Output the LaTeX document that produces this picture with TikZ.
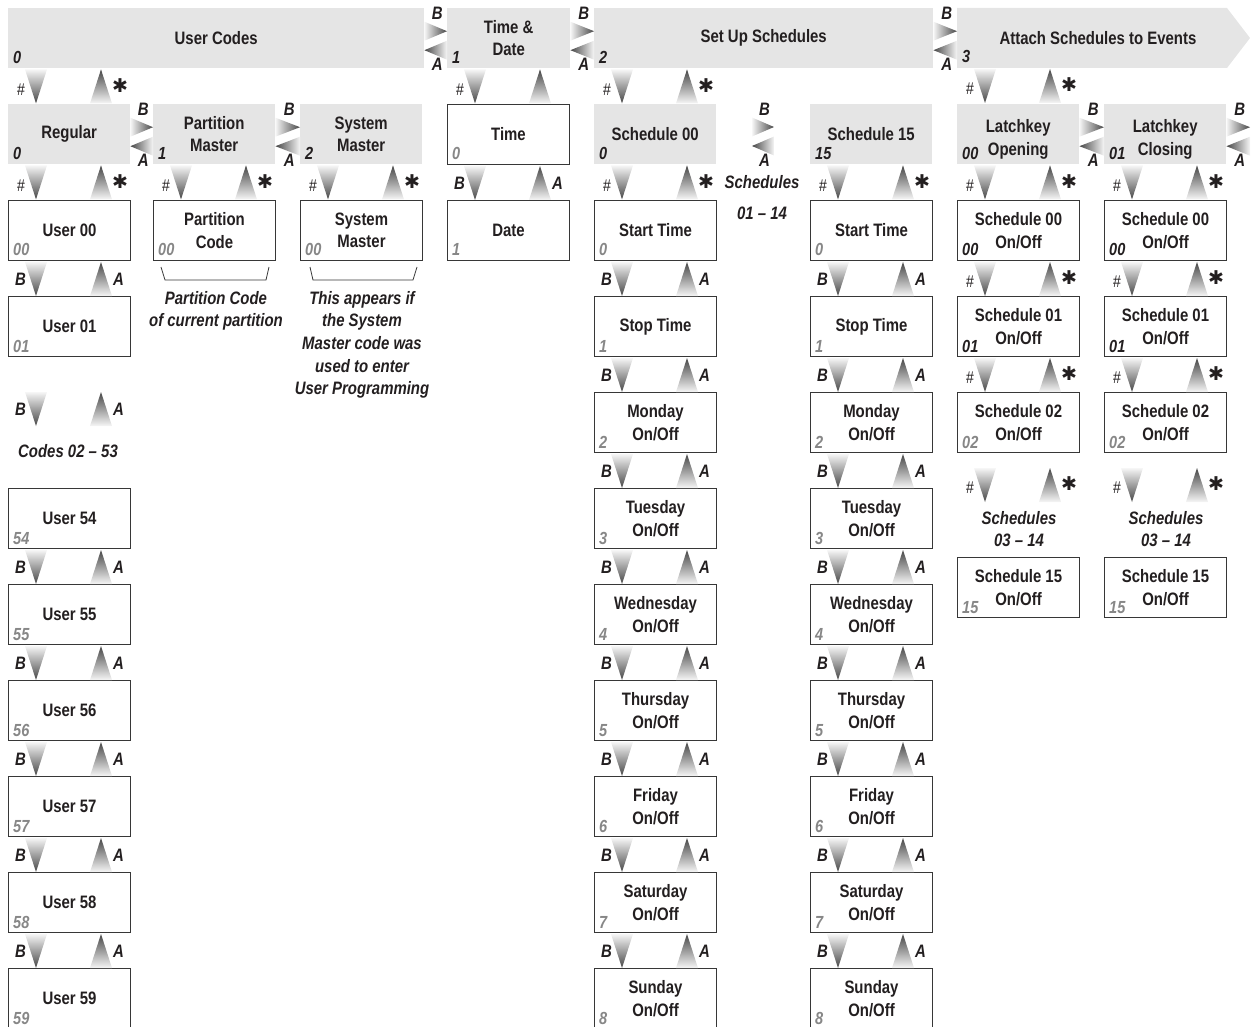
\documentclass[tikz,border=0pt]{standalone}
\usepackage{fontspec}
\setmainfont{Liberation Sans}[FakeStretch=0.83]
\newfontfamily\symfont{DejaVu Sans}
\usetikzlibrary{calc}
\definecolor{shd}{RGB}{229,229,229}
\definecolor{edge}{RGB}{55,55,55}
\definecolor{ink}{RGB}{35,31,32}
\definecolor{idxgray}{RGB}{135,135,135}
\definecolor{tdark}{RGB}{70,70,70}
\definecolor{tlight}{RGB}{246,246,246}
\newcommand\mainsz{\fontsize{18}{22.6}\selectfont\bfseries}
\newcommand\labsz{\fontsize{18}{18}\selectfont\bfseries\itshape}
\newcommand\idxsz{\fontsize{17.5}{17.5}\selectfont\bfseries\itshape}
\newcommand\hashsz{\fontsize{17}{17}\selectfont\itshape}
\newcommand\sts{{\symfont\fontsize{19}{19}\selectfont ✱}}
\newcommand\lift{\rule{0pt}{24pt}}
\tikzset{
 every node/.style={inner sep=0pt, text=ink},
 wbox/.style={draw=edge, line width=1pt, fill=white, minimum width=122pt, minimum height=60pt, anchor=north west, align=center, font=\mainsz},
 gbox/.style={fill=shd, minimum width=122pt, minimum height=60pt, anchor=north west, align=center, font=\mainsz},
 lab/.style={font=\labsz},
 hashlab/.style={font=\hashsz},
 idxb/.style={font=\idxsz, anchor=base west, text=ink},
 idxg/.style={font=\idxsz, anchor=base west, text=idxgray},
 note/.style={font=\mainsz\itshape, align=center, anchor=north},
 dtri/.style={top color=tlight, bottom color=tdark},
 utri/.style={top color=tdark, bottom color=tlight},
 rtri/.style={left color=tlight, right color=tdark},
 ltri/.style={left color=tdark, right color=tlight},
 bracket/.style={draw=edge, line width=0.8pt},
}
% vertical triangle pair below a point (top-left of the gap)
\newcommand\vtris[1]{%
 \shade[dtri] let \p1=(#1) in (\x1+17pt,\y1-1pt) -- (\x1+39pt,\y1-1pt) -- (\x1+28pt,\y1-35pt) -- cycle;
 \shade[utri] let \p1=(#1) in (\x1+93pt,\y1-1pt) -- (\x1+104pt,\y1-35pt) -- (\x1+82pt,\y1-35pt) -- cycle;}
\newcommand\vba[1]{\vtris{#1}%
 \path let \p1=(#1) in node[lab,anchor=east] at (\x1+18pt,\y1-18pt) {B} node[lab,anchor=west] at (\x1+105pt,\y1-18pt) {A};}
\newcommand\vhs[1]{\vtris{#1}%
 \path let \p1=(#1) in node[hashlab,anchor=east] at (\x1+17pt,\y1-21pt) {\#} node[anchor=center] at (\x1+112pt,\y1-17pt) {\sts};}
% horizontal triangle pair between two points
\newcommand\hpair[2]{%
 \shade[rtri] let \p1=(#1),\p2=(#2) in (\x1,\y1+16.5pt) -- (\x2,\y1+7pt) -- (\x1,\y1-2.5pt) -- cycle;
 \shade[ltri] let \p1=(#1),\p2=(#2) in (\x2,\y1-2.5pt) -- (\x2,\y1-21.5pt) -- (\x1,\y1-12pt) -- cycle;
 \path let \p1=(#1),\p2=(#2) in node[lab] at ({0.5*\x1+0.5*\x2+1.5pt},\y1+24.5pt) {B} node[lab] at ({0.5*\x1+0.5*\x2+1.5pt},\y1-26.5pt) {A};}
\newcommand\idx[3]{\node[#3] (#1-i) at ([shift={(5,-5)}]#1.south west) {#2};}
\begin{document}
\begin{tikzpicture}[x=1pt,y=-1pt]
\useasboundingbox (0,0) rectangle (1256,1027);
\clip (0,0) rectangle (1256,1027);
% ---------- top banners
\node[gbox,minimum width=416pt] (uc) at (8,8) {User Codes};
\node[gbox,minimum width=123pt] (td) at (447,8) {Time \&\\Date};
\node[gbox,minimum width=339pt] (sus) at (594,8) {Set Up Schedules};
\fill[shd] (957,8) -- (1227,8) -- (1250,38) -- (1227,68) -- (957,68) -- cycle;
\node[font=\mainsz] (att) at (1098,38) {Attach Schedules to Events};
\coordinate (attw) at (957,38);
\coordinate (attsw) at (957,68);
\idx{uc}{0}{idxb} \idx{td}{1}{idxb} \idx{sus}{2}{idxb}
\node[idxb] (att-i) at ([shift={(5,-5)}]attsw) {3};
\hpair{uc.east}{td.west}
\hpair{td.east}{sus.west}
\hpair{sus.east}{attw}
% ---------- row 1
\node[gbox] (reg) at (8,104) {Regular};
\node[gbox] (pm) at (153,104) {Partition\\Master};
\node[gbox] (smg) at (300,104) {System\\Master};
\node[wbox] (time) at (447,104) {Time};
\node[gbox] (s00) at (594,104) {Schedule 00};
\node[gbox] (s15) at (810,104) {Schedule 15};
\node[gbox] (lo) at (957,104) {\lift Latchkey\\Opening};
\node[gbox] (lc) at (1104,104) {\lift Latchkey\\Closing};
\idx{reg}{0}{idxb} \idx{pm}{1}{idxb} \idx{smg}{2}{idxb} \idx{time}{0}{idxg}
\idx{s00}{0}{idxb} \idx{s15}{15}{idxb} \idx{lo}{00}{idxb} \idx{lc}{01}{idxb}
\hpair{reg.east}{pm.west}
\hpair{pm.east}{smg.west}
\coordinate (sga) at (752,134);
\coordinate (sgb) at (774,134);
\hpair{sga}{sgb}
\hpair{lo.east}{lc.west}
\coordinate (lce) at (1250,134);
\hpair{lc.east}{lce}
% vertical pairs under banners
\vhs{uc.south west}
\vtris{td.south west}
\node[hashlab,anchor=east] (tdh) at ([shift={(17,21)}]td.south west) {\#};
\vhs{sus.south west}
\vhs{attsw}
% ---------- row 2
\node[wbox] (u00) at (8,200) {User 00};
\node[wbox] (pc) at (153,200) {Partition\\Code};
\node[wbox] (smw) at (300,200) {System\\Master};
\node[wbox] (date) at (447,200) {Date};
\node[wbox] (st0) at (594,200) {Start Time};
\node[wbox] (st15) at (810,200) {Start Time};
\node[wbox] (la0) at (957,200) {Schedule 00\\On/Off};
\node[wbox] (lb0) at (1104,200) {Schedule 00\\On/Off};
\idx{u00}{00}{idxg} \idx{pc}{00}{idxg} \idx{smw}{00}{idxg} \idx{date}{1}{idxg}
\idx{st0}{0}{idxg} \idx{st15}{0}{idxg} \idx{la0}{00}{idxb} \idx{lb0}{00}{idxb}
\vhs{reg.south west} \vhs{pm.south west} \vhs{smg.south west}
\vba{time.south west}
\vhs{s00.south west} \vhs{s15.south west}
\vhs{lo.south west} \vhs{lc.south west}
% brackets and notes
\draw[bracket] ([shift={(8,6)}]pc.south west) -- ([shift={(12,19)}]pc.south west) -- ([shift={(-10,19)}]pc.south east) -- ([shift={(-7,6)}]pc.south east);
\draw[bracket] ([shift={(10,6)}]smw.south west) -- ([shift={(13,19)}]smw.south west) -- ([shift={(-10,19)}]smw.south east) -- ([shift={(-6,6)}]smw.south east);
\node[note] (pcn) at (216,291) {Partition Code\\of current partition};
\node[note] (smn) at (362,291) {This appears if\\the System\\Master code was\\used to enter\\User Programming};
\node[note,font=\fontsize{18}{31}\selectfont\bfseries\itshape] (sch) at (762,175) {Schedules\\01 – 14};
% ---------- row 3
\node[wbox] (u01) at (8,296) {User 01};
\node[wbox] (sp0) at (594,296) {Stop Time};
\node[wbox] (sp15) at (810,296) {Stop Time};
\node[wbox] (la1) at (957,296) {Schedule 01\\On/Off};
\node[wbox] (lb1) at (1104,296) {Schedule 01\\On/Off};
\idx{u01}{01}{idxg} \idx{sp0}{1}{idxg} \idx{sp15}{1}{idxg}
\idx{la1}{01}{idxb} \idx{lb1}{01}{idxb}
\vba{u00.south west}
\vba{st0.south west} \vba{st15.south west}
\vhs{la0.south west} \vhs{lb0.south west}
% ---------- row 4
\coordinate (ucg) at (8,391);
\vba{ucg}
\node[note] (codes) at (68,444) {Codes 02 – 53};
\node[wbox] (mo0) at (594,392) {Monday\\On/Off};
\node[wbox] (mo15) at (810,392) {Monday\\On/Off};
\node[wbox] (la2) at (957,392) {Schedule 02\\On/Off};
\node[wbox] (lb2) at (1104,392) {Schedule 02\\On/Off};
\idx{mo0}{2}{idxg} \idx{mo15}{2}{idxg} \idx{la2}{02}{idxg} \idx{lb2}{02}{idxg}
\vba{sp0.south west} \vba{sp15.south west}
\vhs{la1.south west} \vhs{lb1.south west}
\coordinate (lag) at (957,467);
\coordinate (lbg) at (1104,467);
\vhs{lag} \vhs{lbg}
\node[note] (lan) at (1019,511) {Schedules\\03 – 14};
\node[note] (lbn) at (1166,511) {Schedules\\03 – 14};
\node[wbox] (la15) at (957,557) {Schedule 15\\On/Off};
\node[wbox] (lb15) at (1104,557) {Schedule 15\\On/Off};
\idx{la15}{15}{idxg} \idx{lb15}{15}{idxg}
% ---------- rows 5-10
\node[wbox] (u54) at (8,488) {User 54};
\node[wbox] (u55) at (8,584) {User 55};
\node[wbox] (u56) at (8,680) {User 56};
\node[wbox] (u57) at (8,776) {User 57};
\node[wbox] (u58) at (8,872) {User 58};
\node[wbox] (u59) at (8,968) {User 59};
\idx{u54}{54}{idxg} \idx{u55}{55}{idxg} \idx{u56}{56}{idxg}
\idx{u57}{57}{idxg} \idx{u58}{58}{idxg} \idx{u59}{59}{idxg}
\vba{u54.south west} \vba{u55.south west} \vba{u56.south west}
\vba{u57.south west} \vba{u58.south west}
\node[wbox] (tu0) at (594,488) {Tuesday\\On/Off};
\node[wbox] (we0) at (594,584) {Wednesday\\On/Off};
\node[wbox] (th0) at (594,680) {Thursday\\On/Off};
\node[wbox] (fr0) at (594,776) {Friday\\On/Off};
\node[wbox] (sa0) at (594,872) {Saturday\\On/Off};
\node[wbox] (su0) at (594,968) {Sunday\\On/Off};
\node[wbox] (tu15) at (810,488) {Tuesday\\On/Off};
\node[wbox] (we15) at (810,584) {Wednesday\\On/Off};
\node[wbox] (th15) at (810,680) {Thursday\\On/Off};
\node[wbox] (fr15) at (810,776) {Friday\\On/Off};
\node[wbox] (sa15) at (810,872) {Saturday\\On/Off};
\node[wbox] (su15) at (810,968) {Sunday\\On/Off};
\idx{tu0}{3}{idxg} \idx{we0}{4}{idxg} \idx{th0}{5}{idxg} \idx{fr0}{6}{idxg} \idx{sa0}{7}{idxg} \idx{su0}{8}{idxg}
\idx{tu15}{3}{idxg} \idx{we15}{4}{idxg} \idx{th15}{5}{idxg} \idx{fr15}{6}{idxg} \idx{sa15}{7}{idxg} \idx{su15}{8}{idxg}
\vba{mo0.south west} \vba{tu0.south west} \vba{we0.south west} \vba{th0.south west} \vba{fr0.south west} \vba{sa0.south west}
\vba{mo15.south west} \vba{tu15.south west} \vba{we15.south west} \vba{th15.south west} \vba{fr15.south west} \vba{sa15.south west}
\end{tikzpicture}
\end{document}
